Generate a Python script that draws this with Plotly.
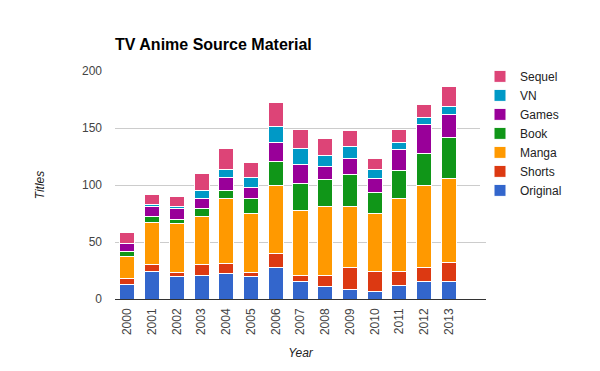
import plotly.graph_objects as go

years = ["2000", "2001", "2002", "2003", "2004", "2005", "2006",
         "2007", "2008", "2009", "2010", "2011", "2012", "2013"]

original = [13, 24, 20, 21, 22, 20, 28, 15, 11, 8, 7, 12, 15, 15]
shorts   = [5, 6, 3, 9, 9, 3, 12, 6, 10, 20, 17, 12, 13, 17]
manga    = [19, 37, 43, 42, 57, 52, 60, 57, 60, 53, 51, 64, 72, 74]
book     = [5, 5, 4, 7, 7, 13, 21, 23, 24, 28, 18, 25, 28, 36]
games    = [7, 9, 9, 9, 12, 10, 16, 17, 11, 14, 13, 18, 25, 20]
vn       = [0, 2, 2, 7, 7, 9, 14, 14, 10, 11, 8, 6, 6, 7]
sequel   = [9, 9, 9, 15, 18, 13, 21, 17, 15, 14, 9, 12, 12, 17]

series = [
    ("Original", original, "#3366cc"),
    ("Shorts", shorts, "#dc3912"),
    ("Manga", manga, "#ff9900"),
    ("Book", book, "#109618"),
    ("Games", games, "#990099"),
    ("VN", vn, "#0099c6"),
    ("Sequel", sequel, "#dd4477"),
]

y_ticks = [0, 50, 100, 150, 200]

fig = go.Figure()
for name, vals, color in series:
    fig.add_trace(go.Bar(
        x=list(range(len(years))), y=vals, name=name,
        marker=dict(color=color, line=dict(color="white", width=1)),
    ))

W, H = 592, 363  # page has an 8px body margin

fig.update_layout(
    width=W, height=H,
    barmode="stack", bargap=0.39,
    plot_bgcolor="white", paper_bgcolor="white",
    margin=dict(l=107, r=114, t=63, b=72, autoexpand=False),
    font=dict(family="Liberation Sans, Arial, sans-serif", size=12, color="#444"),
    title=dict(text="<b>TV Anime Source Material</b>", x=107/W, xanchor="left",
               y=1 - 36/H, yanchor="middle",
               font=dict(size=16, color="#000")),
    legend=dict(traceorder="reversed", x=1.0 - 6/371, xanchor="left", y=1.04, yanchor="top",
                font=dict(size=12, color="#222"), itemwidth=30,
                tracegroupgap=0),
    xaxis=dict(
        tickmode="array", tickvals=list(range(len(years))), ticktext=years,
        range=[-0.5, 14.5], tickangle=-90, showgrid=False, automargin=False,
        title=dict(text="<i>Year</i>", font=dict(size=12, color="#222"), standoff=14),
        ticks="", ticklabelstandoff=6,
    ),
    yaxis=dict(
        range=[0, 200], tickvals=y_ticks, gridcolor="#cccccc", automargin=False,
        zeroline=True, zerolinecolor="#333333", zerolinewidth=1,
        title=dict(text="<i>Titles</i>", font=dict(size=12, color="#222"), standoff=34),
        ticks="", ticklabelstandoff=12,
    ),
)

fig.write_html("out.html")
